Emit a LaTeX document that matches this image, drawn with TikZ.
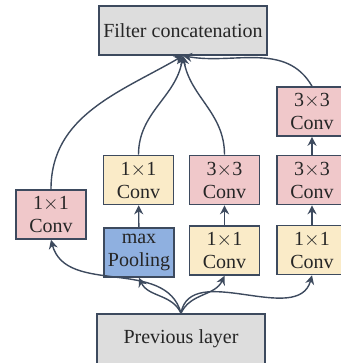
\documentclass[tikz,border=0pt]{standalone}
\usepackage{fontspec}
\setmainfont{Liberation Serif}
\usepackage{tikz}
\usetikzlibrary{calc, positioning, shapes, arrows.meta}
\definecolor{greyfill}{RGB}{221,221,221}
\definecolor{pinkfill}{RGB}{240,200,202}
\definecolor{yellowfill}{RGB}{250,235,200}
\definecolor{bluefill}{RGB}{143,176,224}
\definecolor{edgeblue}{RGB}{61,74,94}

\begin{document}
\begin{tikzpicture}[x=0.5pt, y=-0.5pt,
	layer/.style={draw=edgeblue, line width=0.8pt, inner sep=0pt, align=center,
		font=\fontsize{10}{11.5}\selectfont, text=black!85},
	bigbox/.style={layer, fill=greyfill, minimum width=84pt, minimum height=24.5pt},
	smallbox/.style={layer, minimum width=35pt, minimum height=24.5pt},
	arr/.style={draw=edgeblue, line width=0.7pt, -{Stealth[length=4.5pt, width=4.5pt]}}]
\useasboundingbox (0,0) rectangle (341,363);

\node[bigbox] (concat) at (183,30.5) {Filter concatenation};
\node[bigbox, minimum height=25pt] (prev) at (181,339) {Previous layer};

\node[smallbox, fill=pinkfill] (lconv) at (51,214.5) {1$\times$1\\Conv};
\node[smallbox, fill=yellowfill] (aconv) at (138.5,180) {1$\times$1\\Conv};
\node[smallbox, fill=bluefill] (pool) at (139,252.5) {max\\Pooling};
\node[smallbox, fill=pinkfill] (bconv) at (224.5,180) {3$\times$3\\Conv};
\node[smallbox, fill=yellowfill] (bred) at (224.5,250.5) {1$\times$1\\Conv};
\node[smallbox, fill=pinkfill] (ctop) at (312,111.5) {3$\times$3\\Conv};
\node[smallbox, fill=pinkfill] (cconv) at (312,180) {3$\times$3\\Conv};
\node[smallbox, fill=yellowfill] (cred) at (312,250) {1$\times$1\\Conv};

% from previous layer
\draw[arr] (prev.north) to[out=105, in=-75] (lconv.south);
\draw[arr] (prev.north) to[out=115, in=-65] (pool.south);
\draw[arr] (prev.north) to[out=65, in=-115] (bred.south);
\draw[arr] (prev.north) to[out=80, in=-105] (cred.south);

% inside the branches
\draw[arr] (pool) -- (aconv);
\draw[arr] (bred) -- (bconv);
\draw[arr] (cred) -- (cconv);
\draw[arr] (cconv) -- (ctop);

% into the concatenation
\draw[arr] (lconv.north) to[out=90, in=-150] (concat.south);
\draw[arr] (aconv.north) to[out=90, in=-100] (concat.south);
\draw[arr] (bconv.north) to[out=90, in=-80] (concat.south);
\draw[arr] (ctop.north) to[out=120, in=-10] (concat.south);
\end{tikzpicture}
\end{document}
